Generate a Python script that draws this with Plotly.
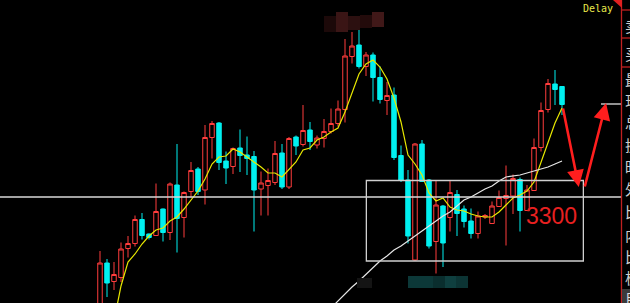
import plotly.graph_objects as go

# ---------------- data ----------------
idx = list(range(1, 68))
opens = [3074, 3168, 3131, 3139, 3197, 3207, 3255, 3226, 3223, 3276,
         3229, 3324, 3259, 3311, 3356, 3314, 3419, 3448, 3372, 3361,
         3398, 3384, 3381, 3316, 3323, 3329, 3388, 3320, 3420, 3405,
         3434, 3404, 3417, 3431, 3447, 3475, 3581, 3604, 3561, 3584,
         3539, 3493, 3504, 3383, 3334, 3174, 3406, 3334, 3211, 3282,
         3259, 3305, 3276, 3252, 3227, 3260, 3247, 3281, 3297, 3302,
         3335, 3273, 3313, 3399, 3475, 3526, 3521]
highs = [3192, 3176, 3170, 3209, 3222, 3263, 3268, 3227, 3327, 3277,
         3329, 3406, 3311, 3370, 3360, 3444, 3452, 3450, 3391, 3399,
         3435, 3421, 3392, 3351, 3357, 3412, 3406, 3420, 3423, 3484,
         3450, 3423, 3456, 3477, 3493, 3616, 3630, 3634, 3590, 3589,
         3561, 3530, 3519, 3403, 3354, 3408, 3414, 3336, 3333, 3284,
         3333, 3314, 3283, 3277, 3271, 3266, 3291, 3313, 3363, 3345,
         3339, 3324, 3417, 3489, 3536, 3554, 3522]
lows = [3064, 3100, 3114, 3130, 3179, 3201, 3215, 3215, 3222, 3211,
        3214, 3189, 3219, 3299, 3304, 3285, 3377, 3354, 3326, 3346,
        3350, 3344, 3231, 3263, 3263, 3324, 3316, 3316, 3384, 3401,
        3394, 3397, 3399, 3427, 3441, 3449, 3567, 3557, 3542, 3491,
        3487, 3464, 3374, 3330, 3207, 3172, 3330, 3197, 3147, 3160,
        3231, 3222, 3239, 3217, 3217, 3256, 3246, 3280, 3203, 3266,
        3231, 3272, 3312, 3391, 3469, 3484, 3464]
closes = [3168, 3128, 3145, 3196, 3207, 3255, 3223, 3219, 3271, 3229,
          3326, 3257, 3309, 3353, 3311, 3419, 3447, 3369, 3358, 3397,
          3383, 3377, 3314, 3328, 3333, 3387, 3320, 3417, 3402, 3433,
          3411, 3418, 3431, 3447, 3476, 3582, 3602, 3561, 3584, 3539,
          3495, 3503, 3379, 3334, 3222, 3406, 3331, 3202, 3284, 3208,
          3309, 3267, 3251, 3227, 3262, 3263, 3282, 3299, 3303, 3337,
          3273, 3314, 3399, 3473, 3527, 3515, 3485]
ma_short = [None, None, 3052, 3122, 3170, 3186, 3206, 3222, 3234, 3238,
            3252, 3260, 3276, 3294, 3312, 3336, 3366, 3380, 3382, 3396,
            3390, 3380, 3370, 3360, 3348, 3348, 3340, 3356, 3370, 3394,
            3398, 3414, 3420, 3430, 3438, 3470, 3510, 3546, 3566, 3574,
            3560, 3536, 3498, 3450, 3384, 3366, 3344, 3308, 3292, 3298,
            3280, 3274, 3272, 3266, 3262, 3260, 3260, 3270, 3284, 3298,
            3304, 3312, 3330, 3370, 3412, 3448, 3478]
ma_long = [None] * 33 + [3078, 3092, 3108, 3120, 3132, 3146, 3160, 3172, 3182,
                         3194, 3202, 3212, 3222, 3232, 3242, 3252, 3262, 3270,
                         3282, 3294, 3300, 3308, 3316, 3322, 3332, 3340, 3342,
                         3344, 3348, 3352, 3356, 3360, 3366, 3372]
level_price = 3300
level_label = "3300"
side_labels = ["卖", "买", "最", "现", "总", "换", "昨", "外", "比", "内", "比", "板"]

# ---------------- layout constants ----------------
W, H = 630, 303
PLOT_R = 621            # right edge of chart area (px)
X_RANGE = [-13.2857, 75.4286]
Y_RANGE = [3088, 3694]
RED = "#ff3c3c"
CYAN = "#00f0f0"


def px(x):
    return x / W


def py(y):
    return 1 - y / H


fig = go.Figure()
fig.add_trace(go.Candlestick(
    x=idx, open=opens, high=highs, low=lows, close=closes,
    increasing=dict(line=dict(color=RED, width=1), fillcolor="#000000"),
    decreasing=dict(line=dict(color=CYAN, width=1), fillcolor=CYAN),
    whiskerwidth=0, hoverinfo="skip",
))
fig.add_trace(go.Scatter(x=idx, y=ma_short, mode="lines",
                         line=dict(color="#e8e800", width=1.2), hoverinfo="skip"))
fig.add_trace(go.Scatter(x=idx, y=ma_long, mode="lines",
                         line=dict(color="#e6e6e6", width=1.2), hoverinfo="skip"))

shapes = []
# horizontal level line
shapes.append(dict(type="line", xref="paper", yref="y", x0=0, x1=px(PLOT_R),
                   y0=level_price, y1=level_price,
                   line=dict(color="#d8d8d8", width=1.3)))
# rectangle box
shapes.append(dict(type="rect", xref="x", yref="y", x0=39.05, x1=70.05,
                   y0=3172, y1=3333, line=dict(color="#d0d0d0", width=1.3)))
# short white mark on right
shapes.append(dict(type="line", xref="paper", yref="paper", x0=px(601), x1=px(PLOT_R),
                   y0=py(104), y1=py(104), line=dict(color="#e0e0e0", width=1.3)))
# right panel border
shapes.append(dict(type="line", xref="paper", yref="paper", x0=px(621.5), x1=px(621.5),
                   y0=0, y1=1, line=dict(color="#c02020", width=1.3)))
for yy in (10, 38, 67):
    shapes.append(dict(type="line", xref="paper", yref="paper", x0=px(621), x1=1,
                       y0=py(yy), y1=py(yy), line=dict(color="#c02020", width=1.3)))
# red corner triangle
shapes.append(dict(type="path", xref="paper", yref="paper",
                   path=f"M {px(613)} {py(0)} L {px(622)} {py(0)} L {px(622)} {py(8)} Z",
                   fillcolor="#e02020", line=dict(width=0)))
# bottom-right gray box
shapes.append(dict(type="rect", xref="paper", yref="paper", x0=px(622), x1=1,
                   y0=0, y1=py(289), fillcolor="#3a3a3a", line=dict(width=0)))
# mosaic blocks (obscured areas)
mosaic = [
    (324, 16, 336, 32, "#1c0909"), (336, 12, 348, 32, "#3a1515"),
    (348, 16, 360, 30, "#2c1010"), (360, 15, 372, 28, "#230b0b"),
    (372, 12, 384, 27, "#401818"),
    (357, 278, 372, 288, "#141414"), (408, 276, 433, 288, "#0c3838"),
    (433, 276, 445, 288, "#0a2e2e"), (445, 276, 456, 288, "#0f3f3f"),
    (456, 276, 468, 288, "#0c3434"),
]
for x0, y0, x1, y1, c in mosaic:
    shapes.append(dict(type="rect", xref="paper", yref="paper", x0=px(x0), x1=px(x1),
                       y0=py(y1), y1=py(y0), fillcolor=c, line=dict(width=0)))

annotations = []
annotations.append(dict(x=65.5, y=3263, xref="x", yref="y", text=level_label,
                        showarrow=False, font=dict(family="Liberation Sans", size=23, color="#e82020")))
# arrows
annotations.append(dict(x=69.4, y=3320, ax=67.1, ay=3480, xref="x", yref="y",
                        axref="x", ayref="y", text="", showarrow=True,
                        arrowhead=2, arrowsize=1.3, arrowwidth=2.6, arrowcolor="#ff1e1e"))
annotations.append(dict(x=73.3, y=3488, ax=70.2, ay=3318, xref="x", yref="y",
                        axref="x", ayref="y", text="", showarrow=True,
                        arrowhead=2, arrowsize=1.3, arrowwidth=2.6, arrowcolor="#ff1e1e"))
annotations.append(dict(x=px(581), y=py(1), xref="paper", yref="paper", text="Delay",
                        xanchor="left", yanchor="top", showarrow=False,
                        font=dict(family="DejaVu Sans Mono", size=10, color="#e6e64a")))
side_y = [25, 53, 80, 101, 121, 144, 166, 188, 211, 235, 256, 277]
for lab, yy in zip(side_labels, side_y):
    annotations.append(dict(x=px(623), y=py(yy), xref="paper", yref="paper", text=lab,
                            xanchor="left", yanchor="middle", showarrow=False,
                            font=dict(family="Noto Sans CJK SC", size=15, color="#d0d0d0")))
annotations.append(dict(x=px(623), y=py(297), xref="paper", yref="paper", text="自",
                        xanchor="left", yanchor="middle", showarrow=False,
                        font=dict(family="Noto Sans CJK SC", size=14, color="#e0e0e0")))

fig.update_layout(
    width=W, height=H, margin=dict(l=0, r=0, t=0, b=0),
    paper_bgcolor="#000000", plot_bgcolor="#000000",
    showlegend=False, shapes=shapes, annotations=annotations,
    boxgap=0.2, boxgroupgap=0.2,
    xaxis=dict(domain=[0, px(PLOT_R)], range=X_RANGE, visible=False,
               rangeslider=dict(visible=False), fixedrange=True),
    yaxis=dict(domain=[0, 1], range=Y_RANGE, visible=False, fixedrange=True),
)

fig.write_html("out.html", config={"displayModeBar": False})
